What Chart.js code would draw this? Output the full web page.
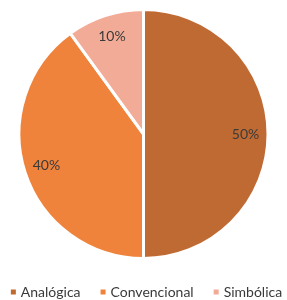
<!DOCTYPE html>
<html>
<head>
<meta charset="utf-8">
<script src="https://cdn.jsdelivr.net/npm/chart.js@4/dist/chart.umd.min.js"></script>
<style>
  html, body { margin: 0; padding: 0; background: #fff; }
  #wrap { width: 287px; height: 300px; }
</style>
</head>
<body>
<div id="wrap"><canvas id="myChart"></canvas></div>
<script>
const categories = ['Analógica', 'Convencional', 'Simbólica'];
const shares = [50, 40, 10];
const sliceColors = ['#C06A33', '#EF833C', '#F2AB96'];

const FONT = '14px Lato, sans-serif';
const TEXT_COLOR = '#3a3a3a';

// percent text inside each slice
const sliceLabels = {
  id: 'sliceLabels',
  afterDatasetsDraw(chart) {
    const ctx = chart.ctx;
    const meta = chart.getDatasetMeta(0);
    ctx.save();
    ctx.font = FONT;
    ctx.fillStyle = TEXT_COLOR;
    ctx.textAlign = 'center';
    ctx.textBaseline = 'middle';
    meta.data.forEach((arc, i) => {
      const p = arc.getProps(['x', 'y', 'startAngle', 'endAngle', 'outerRadius']);
      const mid = (p.startAngle + p.endAngle) / 2;
      const r = p.outerRadius * 0.82;
      ctx.fillText(shares[i] + '%', p.x + Math.cos(mid) * r, p.y + Math.sin(mid) * r);
    });
    ctx.restore();
  },
};

// one-row legend under the pie, spaced like the original
const bottomLegend = {
  id: 'bottomLegend',
  afterDraw(chart) {
    const ctx = chart.ctx;
    const box = 5;
    const boxGap = 5;
    const itemGap = 20;
    const y = 292;
    ctx.save();
    ctx.font = FONT;
    ctx.textBaseline = 'middle';
    ctx.textAlign = 'left';
    const widths = categories.map((c) => ctx.measureText(c).width);
    const total =
      widths.reduce((a, b) => a + b, 0) +
      categories.length * (box + boxGap) +
      (categories.length - 1) * itemGap;
    let x = (chart.width - total) / 2 + 3;
    categories.forEach((c, i) => {
      ctx.fillStyle = sliceColors[i];
      ctx.fillRect(x, y - box / 2, box, box);
      x += box + boxGap;
      ctx.fillStyle = TEXT_COLOR;
      ctx.fillText(c, x, y);
      x += widths[i] + itemGap;
    });
    ctx.restore();
  },
};

const config = {
  type: 'pie',
  data: {
    labels: categories,
    datasets: [
      {
        data: shares,
        backgroundColor: sliceColors,
        borderColor: '#ffffff',
        borderWidth: 3,
      },
    ],
  },
  options: {
    responsive: true,
    maintainAspectRatio: false,
    animation: false,
    layout: { padding: { top: 8, bottom: 40, left: 0, right: 0 } },
    plugins: {
      tooltip: { enabled: false },
      legend: { display: false },
    },
  },
  plugins: [sliceLabels, bottomLegend],
};

const myChart = new Chart(document.querySelector('#myChart'), config);
</script>
</body>
</html>
